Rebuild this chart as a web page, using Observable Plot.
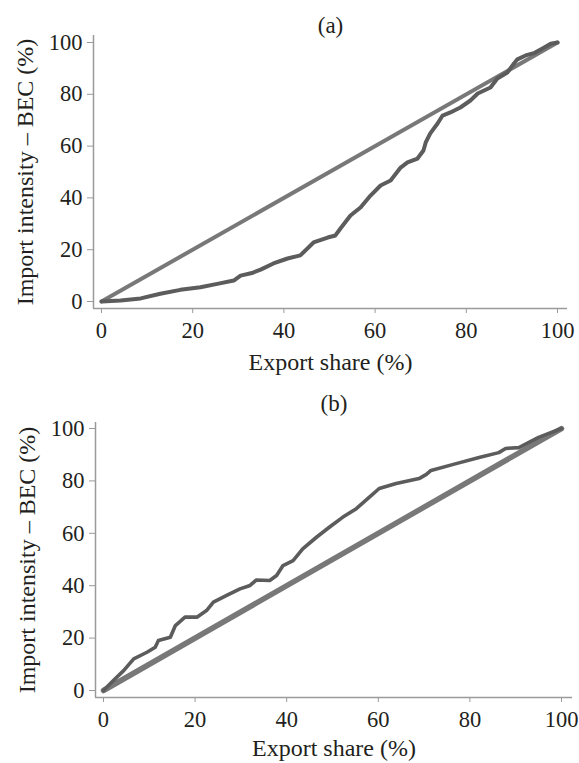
<!DOCTYPE html>
<html><head><meta charset="utf-8">
<script src="https://cdn.jsdelivr.net/npm/d3@7"></script>
<script src="https://cdn.jsdelivr.net/npm/@observablehq/plot@0.6"></script>
<style>
body{margin:0;background:#fff}
#chart svg{display:block}
</style>
</head><body><div id="chart"></div>
<script>
// ---- data ----
const xTicks = [0, 20, 40, 60, 80, 100];
const yTicks = [0, 20, 40, 60, 80, 100];
const panelTitles = ["(a)", "(b)"];
const xLabel = "Export share (%)";
const yLabel = "Import intensity \u2013 BEC (%)";

// 45-degree reference line
const diagX = [0, 100];
const diagY = [0, 100];

// panel (a) curve
const aX = [0, 4.2, 8.6, 12.9, 17.3, 21.7, 25.4, 29, 30.5, 33, 34.9, 37.7, 40.8, 43.6, 46.5, 49.6, 51.3, 52.4, 54.6, 56.8, 59, 61.2, 63.4, 65.6, 67.1, 69.3, 70.6, 71.1, 72.1, 73.7, 74.8, 76.5, 78.7, 80.9, 82.5, 85.3, 86.8, 89, 90.5, 91.2, 93, 95, 97, 98.5, 100];
const aY = [0, 0.4, 1.2, 3, 4.5, 5.5, 6.8, 8.1, 10, 11, 12.3, 14.7, 16.6, 17.8, 22.8, 24.7, 25.5, 28.2, 33.2, 36.3, 40.9, 44.8, 46.7, 51.7, 53.7, 55.2, 58.3, 61.4, 64.9, 68.7, 71.8, 73, 74.9, 77.6, 80.3, 82.6, 86.1, 88.4, 92, 93.5, 95, 96, 98, 99.5, 100];

// panel (b) curve
const bX = [0, 2, 4.4, 6.6, 9.5, 11.3, 12, 14.6, 15.7, 17.8, 20.4, 22.5, 24, 26.9, 29.8, 32, 33.4, 36.3, 37.8, 39.2, 41.4, 43.5, 46.5, 49.3, 52.2, 55.2, 58, 60.2, 63.9, 68.9, 70.5, 71.5, 77, 82, 86.3, 87.8, 90.7, 95, 100];
const bY = [0, 3.5, 7.6, 12.1, 14.6, 16.5, 19.1, 20.3, 24.8, 28, 28, 30.5, 33.7, 36.3, 38.8, 40.1, 42.2, 42, 43.9, 47.7, 49.6, 54.1, 58.5, 62.3, 66.1, 69.4, 73.7, 77.1, 79, 80.9, 82.5, 84, 86.6, 88.9, 90.8, 92.4, 92.7, 96.6, 100];

// ---- drawing ----
const toRows = (xs, ys) => xs.map((x, i) => ({x, y: ys[i]}));
const font = "'Liberation Serif', 'Times New Roman', serif";
const textColor = "#231f20";
const axisColor = "#9a9a9a";

function panel(o) {
  return Plot.plot({
    width: 579,
    height: o.height,
    marginTop: o.mt, marginBottom: o.mb, marginLeft: o.ml, marginRight: o.mr,
    style: {fontFamily: font, fontSize: "23px", color: textColor, background: "#fff"},
    x: {domain: o.xDomain, axis: null},
    y: {domain: o.yDomain, axis: null},
    marks: [
      Plot.ruleX([o.xDomain[0]], {stroke: axisColor, strokeWidth: 1.5}),
      Plot.ruleY([o.yDomain[0]], {stroke: axisColor, strokeWidth: 1.5}),
      Plot.axisX(xTicks, {anchor: "bottom", tickSize: 5, tickPadding: 9, stroke: axisColor, fill: textColor, fontSize: 22.5, label: null}),
      Plot.axisY(yTicks, {anchor: "left", tickSize: 6, tickPadding: 5, stroke: axisColor, fill: textColor, fontSize: 22.5, label: null}),
      Plot.line(toRows(diagX, diagY), {x: "x", y: "y", stroke: "#787878", strokeWidth: o.diagW, strokeLinecap: "round"}),
      Plot.line(toRows(o.cx, o.cy), {x: "x", y: "y", stroke: "#5c5c5c", strokeWidth: o.curveW, strokeLinejoin: "round", strokeLinecap: "round"}),
      Plot.text([o.title], {frameAnchor: "top", lineAnchor: "bottom", textAnchor: "middle", dy: o.titleDy, fontSize: 23, fill: textColor}),
      Plot.text([xLabel], {frameAnchor: "bottom", lineAnchor: "bottom", textAnchor: "middle", dy: o.xlDy, fontSize: 24, fill: textColor}),
      Plot.text([yLabel], {frameAnchor: "left", lineAnchor: "bottom", textAnchor: "middle", rotate: -90, dx: -61, fontSize: 24, fill: textColor})
    ]
  });
}

const chart = document.getElementById("chart");
chart.append(panel({
  height: 380, mt: 35, mb: 72, ml: 93, mr: 12,
  xDomain: [-1.75, 102.19], yDomain: [-2.7, 102.7],
  cx: aX, cy: aY, title: panelTitles[0], titleDy: -3, xlDy: 61,
  diagW: 4, curveW: 4
}));
chart.append(panel({
  height: 383, mt: 42, mb: 66, ml: 95, mr: 7,
  xDomain: [-1.74, 102.4], yDomain: [-2.67, 102.3],
  cx: bX, cy: bY, title: panelTitles[1], titleDy: -12, xlDy: 58,
  diagW: 5.5, curveW: 3.6
}));
</script>
</body></html>
